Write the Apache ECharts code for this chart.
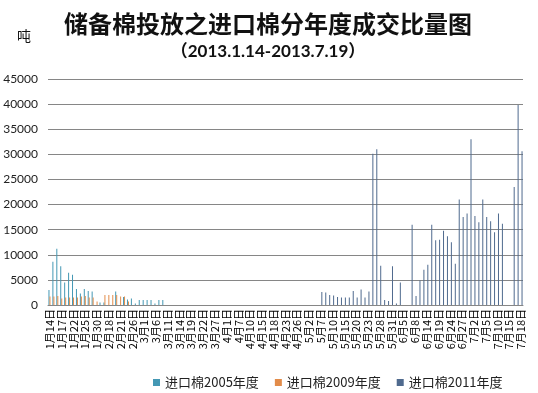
<!DOCTYPE html>
<html>
<head>
<meta charset="utf-8">
<script src="https://cdn.jsdelivr.net/npm/echarts@6/dist/echarts.min.js"></script>
<style>
html,body{margin:0;padding:0;background:#fff;}
#main{width:538px;height:393px;}
</style>
</head>
<body>
<div id="main"></div>
<script>
// trading days of the auction (category axis)
var dates = [
 "1月14日","1月15日","1月16日","1月17日","1月18日","1月21日","1月22日","1月23日","1月24日","1月25日",
 "1月28日","1月29日","1月30日","1月31日","2月1日","2月18日","2月19日","2月20日","2月21日","2月22日",
 "2月25日","2月26日","2月27日","2月28日","3月1日","3月4日","3月5日","3月6日","3月7日","3月8日",
 "3月11日","3月12日","3月13日","3月14日","3月15日","3月18日","3月19日","3月20日","3月21日","3月22日",
 "3月25日","3月26日","3月27日","3月28日","3月29日","4月1日","4月2日","4月3日","4月7日","4月8日",
 "4月9日","4月10日","4月11日","4月12日","4月15日","4月16日","4月17日","4月18日","4月19日","4月22日",
 "4月23日","4月24日","4月25日","4月26日","4月27日","4月28日","5月2日","5月3日","5月6日","5月7日",
 "5月8日","5月9日","5月10日","5月13日","5月14日","5月15日","5月16日","5月17日","5月20日","5月21日",
 "5月22日","5月23日","5月24日","5月27日","5月28日","5月29日","5月30日","5月31日","6月3日","6月4日",
 "6月5日","6月6日","6月7日","6月8日","6月9日","6月13日","6月14日","6月17日","6月18日","6月19日",
 "6月20日","6月21日","6月24日","6月25日","6月26日","6月27日","6月28日","7月1日","7月2日","7月3日",
 "7月4日","7月5日","7月8日","7月9日","7月10日","7月11日","7月12日","7月15日","7月16日","7月17日",
 "7月18日"
];

var seriesNames = ["进口棉2005年度","进口棉2009年度","进口棉2011年度"];

// 进口棉2005年度 (tons)
var cotton2005 = [
 3000,8600,11200,7700,4500,6400,6000,3200,2300,3200,
 2800,2700,0,500,500,0,0,2700,0,1600,
 1100,1300,300,1000,1000,1000,1000,300,1000,1000,
 0,0,0,0,0,0,0,0,0,0,
 0,0,0,0,0,0,0,0,0,0,
 0,0,0,0,0,0,0,0,0,0,
 0,0,0,0,0,0,0,0,0,0,
 0,0,0,0,0,0,0,0,0,0,
 0,0,0,0,0,0,0,0,0,0,
 0,0,0,0,0,0,0,0,0,0,
 0,0,0,0,0,0,0,0,0,0,
 0,0,0,0,0,0,0,0,0,0,
 0
];

// 进口棉2009年度 (tons)
var cotton2009 = [
 1700,1700,1800,1300,1500,1500,1500,1500,1700,1800,
 1500,1500,700,0,2000,2000,2000,2000,1700,1700,
 700,0,0,0,0,0,0,0,0,0,
 0,0,0,0,0,0,0,0,0,0,
 0,0,0,0,0,0,0,0,0,0,
 0,0,0,0,0,0,0,0,0,0,
 0,0,0,0,0,0,0,0,0,0,
 0,0,0,0,0,0,0,0,0,0,
 0,0,0,0,0,0,0,0,0,0,
 0,0,0,0,0,0,0,0,0,0,
 0,0,0,0,0,0,0,0,0,0,
 0,0,0,0,0,0,0,0,0,0,
 0
];

// 进口棉2011年度 (tons)
var cotton2011 = [
 0,0,0,0,0,0,0,0,0,0,
 0,0,0,0,0,0,0,0,0,0,
 0,0,0,0,0,0,0,0,0,0,
 0,0,0,0,0,0,0,0,0,0,
 0,0,0,0,0,0,0,0,0,0,
 0,0,0,0,0,0,0,0,0,0,
 0,0,0,0,0,0,0,0,0,2600,
 2500,2000,1900,1600,1500,1500,1500,2800,1500,3100,
 1500,2700,30100,31000,7800,1000,800,7700,300,4500,
 0,0,16000,1800,4900,7000,8000,16000,12900,13000,
 14800,13700,12500,8200,21000,17500,18200,33000,17700,16500,
 21000,17500,16700,14500,18200,16200,0,0,23500,39800,
 30600
];

var yTicks = [0,5000,10000,15000,20000,25000,30000,35000,40000,45000];

var colors = ["#4498B4","#E28C4A","#4F6A8E"];

var chart = echarts.init(document.getElementById('main'), null, {renderer:'canvas'});
var cjk = '"Noto Sans CJK SC", sans-serif';
var lat = 'Lato, "Noto Sans CJK SC", sans-serif';

chart.setOption({
  animation: false,
  backgroundColor: '#ffffff',
  color: colors,
  title: [
    {text: '储备棉投放之进口棉分年度成交比量图', left: 263, top: 7, textAlign: 'center',
     textStyle: {fontFamily: cjk, fontSize: 24, fontWeight: 'bold', color: '#111'}},
    {text: '（2013.1.14-2013.7.19）', left: 263, top: 38, textAlign: 'center',
     textStyle: {fontFamily: lat, fontSize: 17, fontWeight: 'bold', color: '#111'}},
    {text: '吨', left: 12, top: 24,
     textStyle: {fontFamily: cjk, fontSize: 14, fontWeight: 'normal', color: '#111'}}
  ],
  legend: {
    top: 371, left: 148,
    itemWidth: 7, itemHeight: 7, itemGap: 16,
    icon: 'rect',
    textStyle: {fontFamily: cjk, fontSize: 13, color: '#222'},
    data: seriesNames
  },
  grid: {left: 48, right: 15, top: 79, bottom: 88},
  xAxis: {
    type: 'category',
    data: dates,
    axisTick: {show: false},
    axisLine: {lineStyle: {color: '#868686', width: 1}},
    axisLabel: {interval: 2, rotate: 90, fontFamily: cjk, fontSize: 11, color: '#000', margin: 4}
  },
  yAxis: {
    type: 'value',
    min: 0, max: 45000, interval: 5000,
    axisLine: {show: false},
    axisTick: {show: false},
    splitLine: {lineStyle: {color: '#868686', width: 1}},
    axisLabel: {fontFamily: lat, fontSize: 12, color: '#222', margin: 10,
      formatter: function(v){ return yTicks.indexOf(v) >= 0 ? String(v) : ''; }}
  },
  series: [
    {name: seriesNames[0], type: 'bar', data: cotton2005, barWidth: 1, barGap: '0%'},
    {name: seriesNames[1], type: 'bar', data: cotton2009, barWidth: 1, barGap: '0%'},
    {name: seriesNames[2], type: 'bar', data: cotton2011, barWidth: 1, barGap: '0%'}
  ]
});
</script>
</body>
</html>
